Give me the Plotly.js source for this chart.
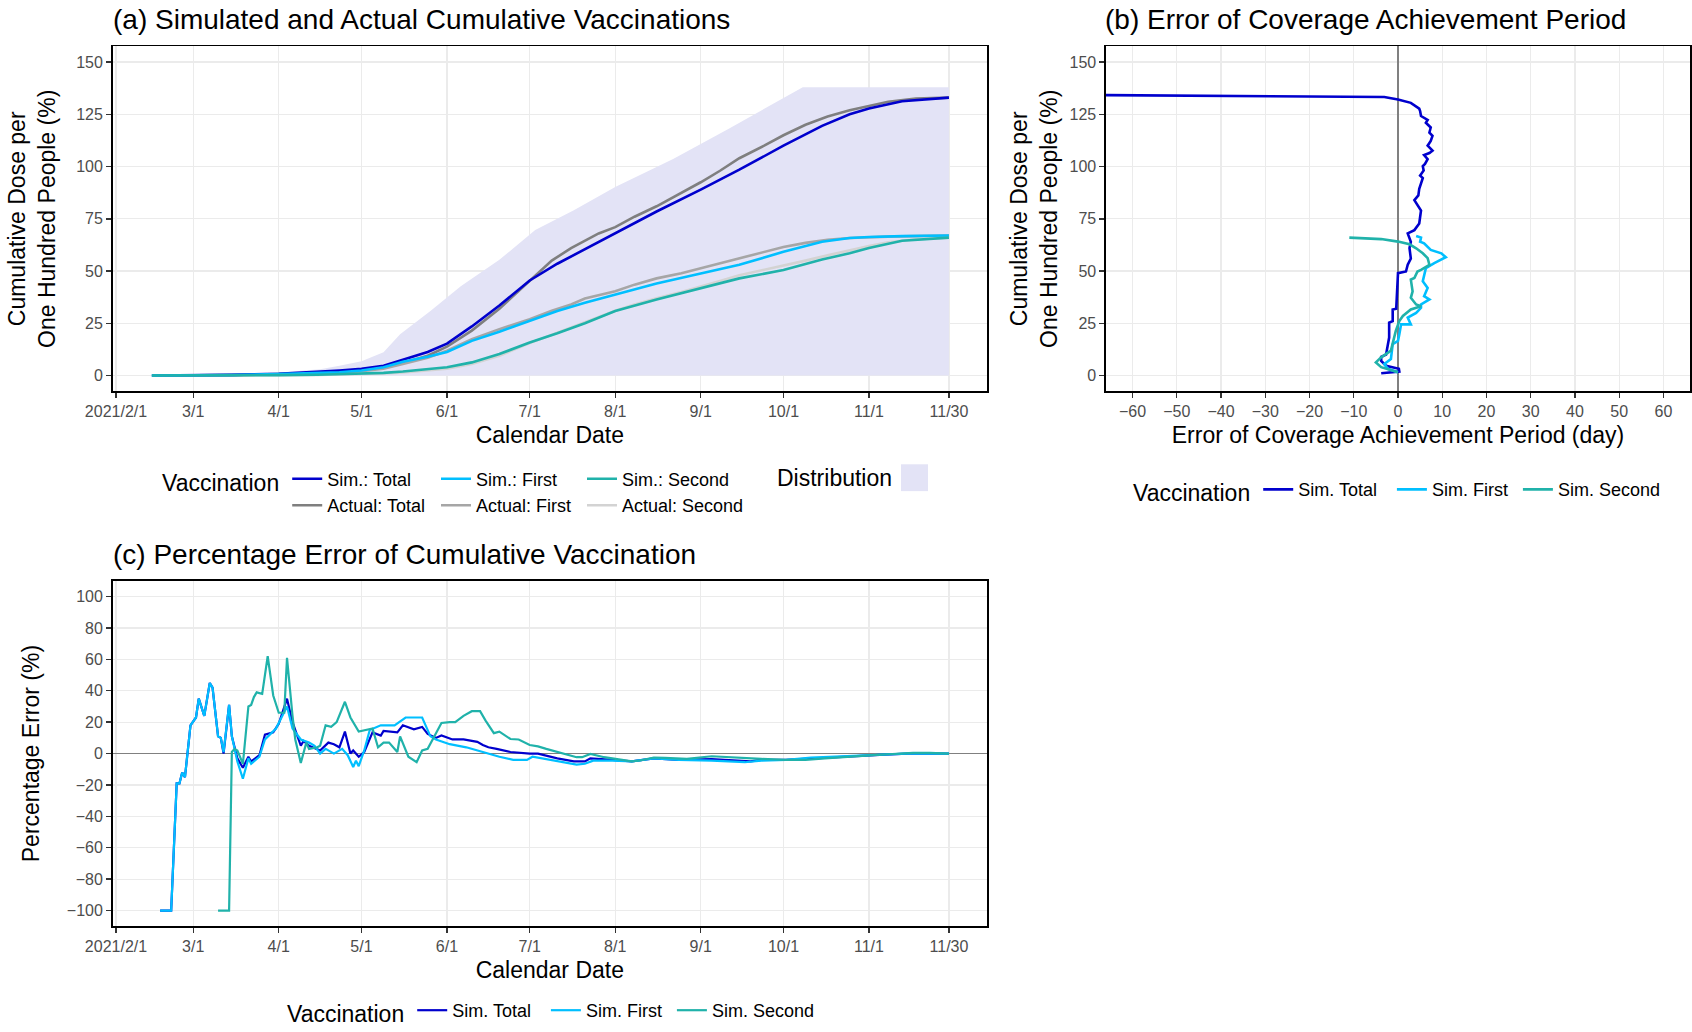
<!DOCTYPE html>
<html><head><meta charset="utf-8">
<script src="https://cdn.plot.ly/plotly-3.0.1.min.js"></script>
<style>html,body{margin:0;padding:0;background:#fff}#chart{width:1692px;height:1032px}</style>
</head><body><div id="chart"></div>
<script>
// ---------------- data (days counted from 2021-02-01) ----------------
const xTickDays   = [0, 28, 59, 89, 120, 150, 181, 212, 242, 273, 302];
const xTickLabels = ['2021/2/1','3/1','4/1','5/1','6/1','7/1','8/1','9/1','10/1','11/1','11/30'];

// Panel (a): distribution band (upper edge, lower edge is 0)
const bandDays  = [13, 28, 59, 74, 81, 89, 97, 103, 114, 125, 139, 152, 166, 181, 202, 222, 249, 302];
const bandUpper = [0, 0.3, 1.5, 3, 4.7, 6.8, 11.1, 19.8, 30.9, 42.7, 55.4, 69.6, 79.1, 90.2, 103.6, 118, 138, 138];

// Panel (a): simulated cumulative doses per 100 people
const simDays   = [13, 28, 42, 59, 73, 81, 89, 97, 104, 113, 120, 129, 139, 150, 160, 170, 181, 196, 212, 226, 242, 256, 266, 273, 285, 302];
const simTotal  = [0, 0.1, 0.3, 0.8, 1.6, 2.4, 3.2, 4.7, 7.5, 11.3, 15.3, 23.5, 33.5, 45.5, 53.5, 60.5, 68.2, 78.5, 89, 98.5, 110, 119.5, 125, 127.8, 131.3, 133];
const simFirst  = [0, 0.1, 0.25, 0.7, 1.2, 1.6, 2.4, 4, 6.6, 9, 11.3, 16.6, 21, 26.1, 30.9, 34.8, 38.8, 44, 48.8, 53, 59.2, 64, 65.8, 66.3, 66.7, 67];
const simSecond = [0, 0, 0.05, 0.2, 0.4, 0.6, 0.9, 1.3, 1.9, 3, 4, 6.3, 10.3, 15.8, 20.2, 25, 30.9, 36.4, 41.9, 46.5, 50.5, 55.5, 58.5, 61, 64.5, 66];

// Panel (a): actual cumulative doses per 100 people
const actDays   = [16, 28, 42, 59, 73, 81, 89, 97, 104, 113, 120, 129, 139, 150, 158, 165, 170, 175, 181, 188, 196, 205, 212, 219, 226, 235, 242, 250, 258, 266, 273, 280, 290, 302];
const actTotal  = [0, 0.05, 0.2, 0.7, 1.3, 1.8, 2.5, 3.8, 6, 9.5, 13.8, 21.5, 32, 45.5, 55, 61, 64.5, 68, 71, 76, 81, 87.5, 92.5, 98, 104, 110, 115, 120, 124, 127, 129, 131, 132.5, 133];
const actFirst  = [0, 0.05, 0.2, 0.6, 1.1, 1.5, 2.1, 3.3, 5.5, 8.5, 11.9, 17.4, 22.2, 26.9, 31, 34, 36.9, 38.5, 40.3, 43.5, 46.5, 49, 51.4, 53.8, 56.2, 59, 61.5, 63.5, 65, 65.8, 66.2, 66.5, 66.7, 67];
const actSecond = [0, 0, 0.02, 0.1, 0.3, 0.5, 0.7, 1, 1.5, 2.4, 3.3, 5.5, 9.5, 15.5, 19.5, 23, 25.3, 28, 31, 34, 37, 40, 42.5, 45.2, 48, 50.5, 52.5, 55, 57.5, 60, 62, 63.8, 65.2, 66];

// Panel (b): error of coverage achievement period (day) vs coverage
const bTotalErr  = [-3.8, 0.3, 0.2, -2.7, -3.8, -3.8, -2.7, -2, -2, -1.2, -1.2, -0.4, 0, 1.8, 2.2, 2.9, 2.6, 2.9, 2.2, 3.7, 4.8, 5.2, 3.7, 4.6, 4.8, 5.3, 5.6, 5.0, 5.8, 5.6, 6.1, 6.7, 5.9, 7.1, 7.8, 6.7, 7.4, 7.8, 7.1, 7.4, 6.3, 6.7, 5.2, 5.0, 4.8, 2.9, 0, -3.1, -66];
const bTotalCov  = [1.1, 1.9, 3.2, 4.7, 7, 9, 10, 18.2, 25.3, 26, 31.6, 32, 49, 49.8, 53, 56, 61, 64, 68, 69.6, 72.8, 79, 83.9, 86.2, 89.4, 92.6, 94.5, 95.7, 98.1, 100.2, 101.3, 103.6, 105.5, 106.5, 107.6, 110, 112.3, 114.7, 116.3, 118.7, 121, 122.3, 124.2, 126.6, 127.7, 130.5, 132.1, 133.3, 134.2];
const bFirstErr  = [0, -2.3, -3.1, -1.6, -1.2, 0, 0.3, 0.7, 2.9, 2.2, 4.1, 5.2, 5.2, 7.1, 5.9, 6.7, 5.6, 5.9, 6.3, 8.2, 10.8, 9.8, 7.4, 5.9, 5, 5.2, 4.1];
const bFirstCov  = [1.6, 3.2, 5.5, 7.9, 15, 16.6, 19.8, 24.5, 24.5, 27.7, 30, 32.4, 34, 36.4, 38, 41.9, 45.1, 48.3, 51.4, 53.8, 56.6, 58.5, 60.1, 63.3, 64.1, 66, 66.8];
const bSecondErr = [0, -3.8, -5, -3.8, -1.6, -1.2, -0.5, 0.3, 1.1, 2.9, 5.2, 4.1, 2.9, 3.3, 2.9, 3.7, 4.4, 5.2, 7.1, 6.7, 5.6, 4.1, 2.6, 0, -3.8, -11];
const bSecondCov = [1.6, 4, 6.3, 8.7, 11.9, 15, 21.4, 26.1, 28.5, 31.6, 33.2, 34, 37.2, 40.3, 45.9, 46.7, 49.8, 50.6, 53, 56.2, 58.5, 60.9, 62.8, 64.1, 65.3, 66];

// Panel (c): percentage error of cumulative vaccination
const cTotalDays = [16,20,22,23,24,25,27,29,30,32,34,35,37,38,39,41,42,44,46,48,49,52,54,57,59,62,64,67,68,70,74,77,79,81,83,85,86,88,90,93,96,97,102,104,108,111,113,116,118,122,126,131,133,135,138,143,150,153,160,166,170,172,180,187,195,204,216,224,230,234,243,253,265,277,289,302];
const cTotal     = [-100,-100,-19,-19,-12,-15,18,23,35,24,45,42,11,10,0,31,11,-3,-9,-2,-5,-1,12,13.5,19,35,20,5,8,5,2,7,6,4,14,0,2,-2,1,13.5,11.5,14.5,13.5,18,15.5,17,12.5,10,11.5,9,9,7.5,5.5,4,3,1,0,0,-3,-5,-5,-3,-4,-5,-3,-4,-3.5,-4.5,-5,-4,-4,-3,-1.7,-0.8,0.2,0];
const cFirstDays = [16,20,22,23,24,25,27,29,30,32,34,35,37,38,39,41,42,44,46,48,49,52,54,58,62,64,67,70,72,74,76,79,82,84,86,87,88,90,92,96,101,105,109,111,114,116,121,127,133,135,139,144,149,151,156,162,167,170,173,180,187,195,204,216,228,234,243,252,265,277,289,302];
const cFirst     = [-100,-100,-19,-19,-12,-15,18,23,35,24,45,42,11,10,1,31,11,-5,-16,-3,-6.5,-2,9,16,30,16,9,7,5,0,3,0,3,-1,-8.5,-4.5,-8,2,15,18,18,23,23,23,11,9,6,4,1,0,-2,-4,-4,-2,-3.5,-5.5,-7,-6.5,-4.5,-4.5,-5,-3,-4,-4.5,-5.5,-4.5,-4,-2.5,-1.5,-0.5,0.2,0];
const cSecondDays = [37,41,42,43,44,46,48,49,50,51,53,55,57,59,61,62,64,65,67,69,70,73,74,76,78,80,83,85,88,91,93,95,97,99,102,103,106,109,111,113,115,118,121,123,126,129,132,134,137,139,143,146,150,153,156,161,167,169,172,177,181,187,190,195,199,207,216,224,228,234,243,250,257,265,272,280,289,295,302];
const cSecond     = [-100,-100,1,3,2,-6.5,30,31,36,39,38,62,37,26,26,61,24,9,-6,7,3,4,5,18,17,20,33,23,14,15,16,4,7,7,1,11,-2,-5.5,2,3,10,19.5,20,20,24,27,27,21,13,14,9.3,9,5.5,4.6,3,0.4,-2.3,-2.3,-0.2,-2.3,-3.4,-5,-4.4,-2.5,-2.7,-3.4,-1.7,-2.5,-3,-3.4,-4,-4,-3,-2.3,-1.3,-0.4,0.4,0.4,0];

// ---------------- helpers ----------------
const W = 1692, H = 1032;
function toDate(d) { return new Date(Date.UTC(2021, 1, 1) + d * 86400000).toISOString().slice(0, 10); }
const dates = arr => arr.map(toDate);
const px = v => v / W;            // horizontal pixel -> paper
const py = v => 1 - v / H;        // vertical pixel (from top) -> paper
const NB = '\u00a0';

const C_TOTAL = '#0000CD', C_FIRST = '#00BFFF', C_SECOND = '#20B2AA';
const C_ATOT = '#7F7F7F', C_AFIRST = '#A6A6A6', C_ASEC = '#D3D3D3';
const C_BAND = '#E3E3F6';
const FONT = '"Liberation Sans", Arial, Helvetica, sans-serif';

// ---------------- traces ----------------
const lineTrace = (x, y, name, color, width, legend, xa, ya, rank) => ({
  x: x, y: y, name: name, type: 'scatter', mode: 'lines', line: {color: color, width: width},
  legend: legend, legendrank: rank || 1000, xaxis: xa, yaxis: ya
});
const traces = [
  {x: dates(bandDays), y: bandUpper, type: 'scatter', mode: 'lines', fill: 'tozeroy', name: 'Distribution',
   fillcolor: C_BAND, line: {width: 0, color: C_BAND}, showlegend: false, xaxis: 'x', yaxis: 'y', hoverinfo: 'skip'},
  lineTrace(dates(actDays), actTotal,  'Actual: Total',  C_ATOT,   2.6, 'legend',  'x', 'y', 2),
  lineTrace(dates(actDays), actFirst,  'Actual: First',  C_AFIRST, 2.6, 'legend2', 'x', 'y', 2),
  lineTrace(dates(actDays), actSecond, 'Actual: Second', C_ASEC,   2.6, 'legend5', 'x', 'y', 2),
  lineTrace(dates(simDays), simTotal,  'Sim.: Total',    C_TOTAL,  2.6, 'legend',  'x', 'y', 1),
  lineTrace(dates(simDays), simFirst,  'Sim.: First',    C_FIRST,  2.6, 'legend2', 'x', 'y', 1),
  lineTrace(dates(simDays), simSecond, 'Sim.: Second',   C_SECOND, 2.6, 'legend5', 'x', 'y', 1),

  lineTrace(bTotalErr,  bTotalCov,  'Sim. Total' + NB + NB, C_TOTAL,  2.6, 'legend3', 'x2', 'y2'),
  lineTrace(bFirstErr,  bFirstCov,  'Sim. First' + NB,      C_FIRST,  2.6, 'legend3', 'x2', 'y2'),
  lineTrace(bSecondErr, bSecondCov, 'Sim. Second',          C_SECOND, 2.6, 'legend3', 'x2', 'y2'),

  lineTrace(dates(cTotalDays),  cTotal,  'Sim. Total' + NB + NB, C_TOTAL,  2.2, 'legend4', 'x3', 'y3'),
  lineTrace(dates(cFirstDays),  cFirst,  'Sim. First' + NB,      C_FIRST,  2.2, 'legend4', 'x3', 'y3'),
  lineTrace(dates(cSecondDays), cSecond, 'Sim. Second',          C_SECOND, 2.2, 'legend4', 'x3', 'y3')
];

// ---------------- axes ----------------
const titleFont = {size: 23, color: '#000', family: FONT};
const baseAxis = {
  showgrid: true, gridcolor: '#EBEBEB', gridwidth: 1.2, zeroline: false,
  showline: true, mirror: true, linecolor: '#000', linewidth: 1.6,
  ticks: 'outside', ticklen: 5, tickwidth: 1.4, tickcolor: '#333',
  tickfont: {size: 16, color: '#4D4D4D', family: FONT}, automargin: false
};
const dateRange = ['2021-01-30 19:12', '2021-12-13 19:12'];
const dateAxis = (domain, anchor) => Object.assign({}, baseAxis, {
  type: 'date', domain: domain, anchor: anchor, range: dateRange,
  tickmode: 'array', tickvals: dates(xTickDays), ticktext: xTickLabels,
  title: {text: 'Calendar Date', font: titleFont, standoff: 8}
});
const domA_x = [px(112.7), px(987)], domA_y = [py(393.5), py(46.7)];
const domB_x = [px(1106), px(1690)];
const domC_y = [py(931.7), py(584.3)];

const legendBase = {orientation: 'v', xanchor: 'left', yanchor: 'middle', bgcolor: 'rgba(0,0,0,0)',
                    font: {size: 18, family: FONT}, traceorder: 'normal'};
const legTitle = {text: 'Vaccination', side: 'left', font: {size: 23, family: FONT}};

const layout = {
  width: W, height: H, margin: {l: 0, r: 0, t: 0, b: 0},
  paper_bgcolor: '#fff', plot_bgcolor: '#fff',
  font: {family: FONT, color: '#000'},
  xaxis: dateAxis(domA_x, 'y'),
  yaxis: Object.assign({}, baseAxis, {domain: domA_y, anchor: 'x', range: [-7.5, 157.5],
    tickmode: 'array', tickvals: [0, 25, 50, 75, 100, 125, 150],
    title: {text: 'Cumulative Dose per<br>One Hundred People (%)', font: titleFont, standoff: 14}}),
  xaxis2: Object.assign({}, baseAxis, {domain: domB_x, anchor: 'y2', range: [-66, 66],
    tickmode: 'array', tickvals: [-60, -50, -40, -30, -20, -10, 0, 10, 20, 30, 40, 50, 60],
    zeroline: true, zerolinecolor: '#808080', zerolinewidth: 1.6,
    title: {text: 'Error of Coverage Achievement Period (day)', font: titleFont, standoff: 8}}),
  yaxis2: Object.assign({}, baseAxis, {domain: domA_y, anchor: 'x2', range: [-7.5, 157.5],
    tickmode: 'array', tickvals: [0, 25, 50, 75, 100, 125, 150],
    title: {text: 'Cumulative Dose per<br>One Hundred People (%)', font: titleFont, standoff: 5}}),
  xaxis3: dateAxis(domA_x, 'y3'),
  yaxis3: Object.assign({}, baseAxis, {domain: domC_y, anchor: 'x3', range: [-110, 110],
    tickmode: 'array', tickvals: [-100, -80, -60, -40, -20, 0, 20, 40, 60, 80, 100],
    zeroline: true, zerolinecolor: '#808080', zerolinewidth: 1.6,
    title: {text: 'Percentage Error (%)', font: titleFont, standoff: 21}}),

  // panel (a) legend: three columns (Sim. row over Actual row)
  legend:  Object.assign({}, legendBase, {x: px(160), y: py(495), title: legTitle}),
  legend2: Object.assign({}, legendBase, {x: px(436), y: py(495)}),
  legend5: Object.assign({}, legendBase, {x: px(582), y: py(495)}),
  // panel (b) and (c) legends
  legend3: Object.assign({}, legendBase, {orientation: 'h', x: px(1131), y: py(494), title: legTitle}),
  legend4: Object.assign({}, legendBase, {orientation: 'h', x: px(285), y: py(1018), title: legTitle}),

  annotations: [
    {text: '(a) Simulated and Actual Cumulative Vaccinations', xref: 'paper', yref: 'paper', x: px(111), y: py(19.5),
     xanchor: 'left', yanchor: 'middle', showarrow: false, font: {size: 28, color: '#000', family: FONT}},
    {text: '(b) Error of Coverage Achievement Period', xref: 'paper', yref: 'paper', x: px(1103), y: py(19.5),
     xanchor: 'left', yanchor: 'middle', showarrow: false, font: {size: 28, color: '#000', family: FONT}},
    {text: '(c) Percentage Error of Cumulative Vaccination', xref: 'paper', yref: 'paper', x: px(111), y: py(558),
     xanchor: 'left', yanchor: 'middle', showarrow: false, font: {size: 28, color: '#000', family: FONT}},
    {text: 'Distribution', xref: 'paper', yref: 'paper', x: px(775), y: py(481),
     xanchor: 'left', yanchor: 'middle', showarrow: false, font: {size: 23, color: '#000', family: FONT}}
  ],
  shapes: [
    {type: 'rect', xref: 'paper', yref: 'paper', x0: px(901), x1: px(928), y0: py(494), y1: py(467),
     fillcolor: C_BAND, line: {width: 0}}
  ]
};

Plotly.newPlot('chart', traces, layout, {displayModeBar: false, staticPlot: true});
</script>
</body></html>
